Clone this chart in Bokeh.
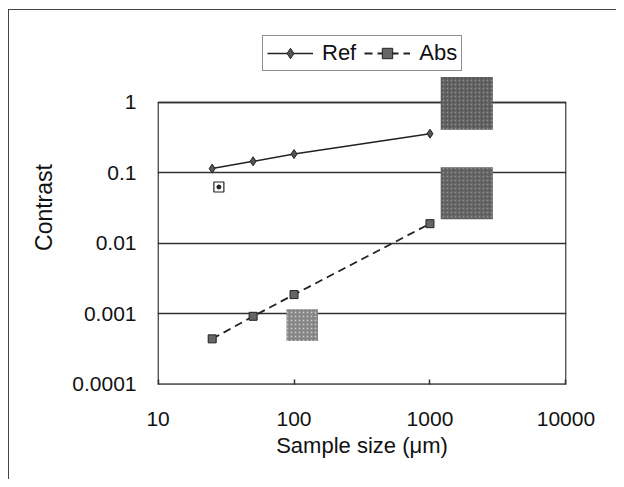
from bokeh.plotting import figure
from bokeh.models import Range1d, FixedTicker, Legend, LegendItem
from bokeh.embed import file_html
from bokeh.resources import INLINE

# ---- data ----
ref_x = [25, 50, 100, 1000]
ref_y = [0.115, 0.146, 0.185, 0.36]
abs_x = [25, 50, 100, 1000]
abs_y = [0.00044, 0.00092, 0.00187, 0.019]

x_ticks = [10, 100, 1000, 10000]
x_tick_labels = ["10", "100", "1000", "10000"]
y_ticks = [0.0001, 0.001, 0.01, 0.1, 1]
y_tick_labels = ["0.0001", "0.001", "0.01", "0.1", "1"]

# sample photographs (extent in data units)
photo_left = [1200, 1200, 88]
photo_right = [2900, 2900, 150]
photo_bottom = [0.41, 0.022, 0.00041]
photo_top = [2.3, 0.12, 0.00116]
photo_color = ["#5c5c5c", "#606060", "#848484"]
photo_speck = ["#8c8c8c", "#8e8e8e", "#c4c4c4"]

spot_x = [28]
spot_y = [0.063]

FONT = "Liberation Sans"

p = figure(width=608, height=470, x_axis_type="log", y_axis_type="log",
           x_range=Range1d(9.9, 10100), y_range=Range1d(0.99e-4, 10.5),
           output_backend="svg", toolbar_location=None,
           min_border_left=148, min_border_right=51,
           min_border_top=20, min_border_bottom=96)
p.styles = {"margin-left": "8px", "margin-top": "9px",
            "border-left": "1px solid #444", "border-top": "1px solid #444"}
p.outline_line_color = None
p.background_fill_color = "white"

# axes
p.xaxis.ticker = FixedTicker(ticks=x_ticks)
p.xaxis.major_label_overrides = dict(zip(x_ticks, x_tick_labels))
p.yaxis.ticker = FixedTicker(ticks=y_ticks)
p.yaxis.major_label_overrides = dict(zip(y_ticks, y_tick_labels))
for ax in (p.xaxis, p.yaxis):
    ax.axis_line_color = None
    ax.minor_tick_line_color = None
    ax.major_label_text_font = FONT
    ax.major_label_text_font_size = "21px"
    ax.major_label_text_color = "#111"
    ax.axis_label_text_font = FONT
    ax.axis_label_text_font_style = "normal"
    ax.axis_label_text_color = "#111"
p.xaxis.axis_label_text_font_size = "22px"
p.yaxis.axis_label_text_font_size = "23px"
p.xaxis.major_tick_in = 5
p.xaxis.major_tick_out = 0
p.xaxis.major_tick_line_color = "#333"
p.xaxis.major_tick_line_width = 1.5
p.yaxis.major_tick_line_color = None
p.xaxis.major_label_standoff = 27
p.yaxis.major_label_standoff = 15
p.xaxis.axis_label = "Sample size (μm)"
p.yaxis.axis_label = "Contrast"
p.xaxis.axis_label_standoff = 4
p.yaxis.axis_label_standoff = 12

p.xgrid.grid_line_color = None
p.ygrid.ticker = FixedTicker(ticks=y_ticks)
p.ygrid.grid_line_color = "#333"
p.ygrid.grid_line_width = 1.5

# plot box
p.quad(left=[x_ticks[0]], right=[x_ticks[-1]], bottom=[y_ticks[0]], top=[y_ticks[-1]],
       fill_color=None, line_color="#333", line_width=1.5)

# photos
p.quad(left=photo_left, right=photo_right, bottom=photo_bottom, top=photo_top,
       fill_color=photo_color, line_color=None,
       hatch_pattern="dot", hatch_color=photo_speck, hatch_scale=4, hatch_weight=1)

# small sample marker
p.scatter(spot_x, spot_y, marker="square", size=10, fill_color="white",
          line_color="#222", line_width=1.2)
p.scatter(spot_x, spot_y, marker="circle", size=4, fill_color="#222", line_color="#222")

# series
r_ref_l = p.line(ref_x, ref_y, line_color="#222", line_width=1.5)
r_ref_m = p.scatter(ref_x, ref_y, marker="diamond", size=9, fill_color="#555",
                    line_color="#222", line_width=1)
r_abs_l = p.line(abs_x, abs_y, line_color="#222", line_width=1.8, line_dash="8 5")
r_abs_m = p.scatter(abs_x, abs_y, marker="square", size=8, fill_color="#666",
                    line_color="#222", line_width=1)

legend = Legend(items=[LegendItem(label="Ref", renderers=[r_ref_l, r_ref_m]),
                       LegendItem(label="Abs", renderers=[r_abs_l, r_abs_m])],
                orientation="horizontal", location=(105, 313))
legend.label_text_font = FONT
legend.label_text_font_size = "22px"
legend.label_text_color = "#111"
legend.border_line_color = "#222"
legend.border_line_width = 1.2
legend.background_fill_alpha = 1
legend.glyph_width = 46
legend.glyph_height = 26
legend.label_height = 26
legend.label_standoff = 9
legend.spacing = 8
legend.padding = 4
legend.margin = 0
p.add_layout(legend)

open("out.html", "w").write(file_html(p, INLINE))
